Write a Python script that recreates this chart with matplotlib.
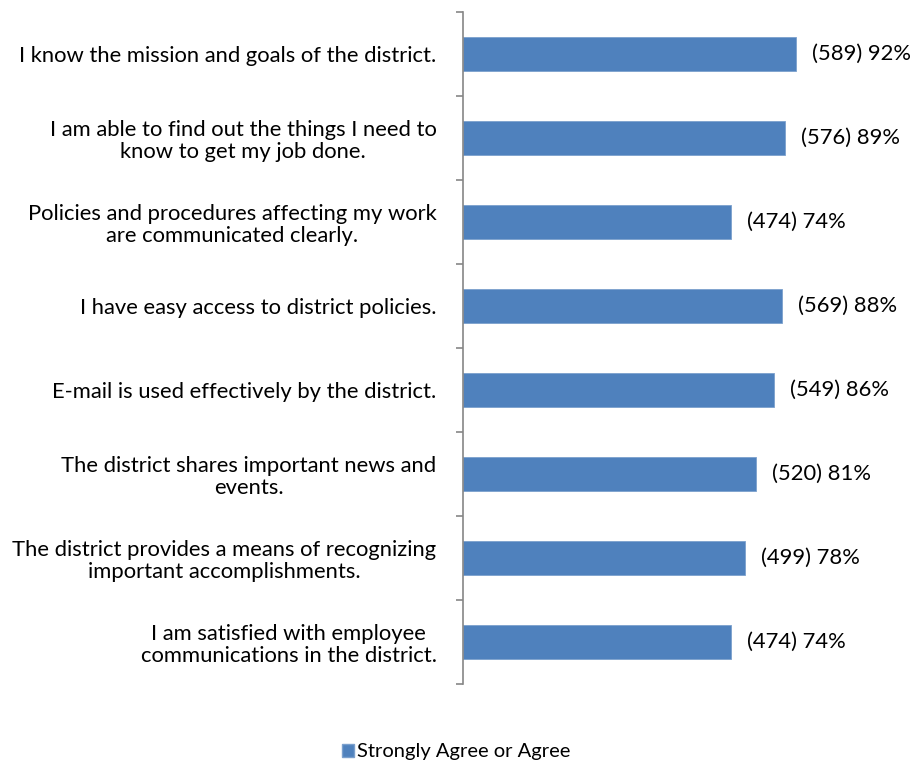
import matplotlib
matplotlib.use("Agg")
import matplotlib.pyplot as plt
from matplotlib.patches import Patch

statements = [
    "I know the mission and goals of the district.",
    "I am able to find out the things I need to\nknow to get my job done.",
    "Policies and procedures affecting my work\nare communicated clearly.",
    "I have easy access to district policies.",
    "E-mail is used effectively by the district.",
    "The district shares important news and\nevents.",
    "The district provides a means of recognizing\nimportant accomplishments.",
    "I am satisfied with employee\ncommunications in the district.",
]
counts = [589, 576, 474, 569, 549, 520, 499, 474]
percents = [92, 89, 74, 88, 86, 81, 78, 74]
series_name = "Strongly Agree or Agree"

plt.rcParams["font.family"] = ["Lato", "DejaVu Sans"]
bar_color = "#4F81BD"
label_size = 15.8

fig = plt.figure(figsize=(9.12, 7.64), dpi=100)
ax = fig.add_axes([463 / 912, 1 - 684 / 764, 362 / 912, 672 / 764])

n = len(statements)
ypos = list(range(n))
ax.barh(ypos, percents, height=0.4, color=bar_color, edgecolor="#7BA0CD", linewidth=0.6)
ax.set_ylim(n - 0.5, -0.5)
ax.set_xlim(0, 100)

for y, c, p in zip(ypos, counts, percents):
    ax.annotate(f"({c}) {p}%", xy=(p, y), xytext=(16, 0), textcoords="offset pixels",
                va="center", ha="left", fontsize=label_size, color="#000000")

ax.set_yticks(ypos)
ax.set_yticklabels(statements, fontsize=label_size, multialignment="center", linespacing=1.12)
ax.set_yticks([i - 0.5 for i in range(n + 1)], minor=True)
ax.tick_params(axis="y", which="major", length=0, pad=19)
ax.tick_params(axis="y", which="minor", length=5, color="#868686", width=1.2, direction="out")
ax.set_xticks([])
for side in ("top", "right", "bottom"):
    ax.spines[side].set_visible(False)
ax.spines["left"].set_color("#868686")
ax.spines["left"].set_linewidth(1.2)

fig.legend(handles=[Patch(facecolor=bar_color, edgecolor="#7BA0CD", label=series_name)],
           loc="center", bbox_to_anchor=(456 / 912, 1 - 752 / 764), frameon=False,
           fontsize=14.5, handlelength=0.6, handleheight=0.6, handletextpad=0.15)

fig.savefig("out.png", dpi=100, facecolor="white")
